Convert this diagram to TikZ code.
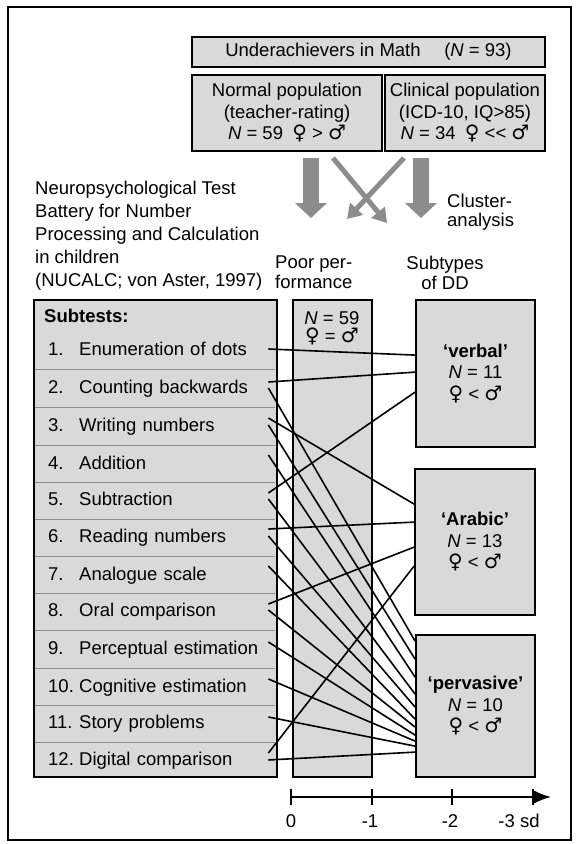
\documentclass[tikz,border=0pt]{standalone}
\usepackage{fontspec}
\setmainfont{Liberation Sans}
\newfontfamily\symfont{DejaVu Sans}
\newcommand{\femsign}{{\symfont\fontsize{20}{20}\selectfont ♀}}
\newcommand{\malesign}{{\symfont\fontsize{20}{20}\selectfont ♂}}
\usetikzlibrary{arrows.meta}

\begin{document}
\begin{tikzpicture}[x=1pt, y=-1pt,
	font=\fontsize{18.5}{21.5}\selectfont,
	panel/.style={draw, line width=1.8pt, fill=black!15, inner sep=0pt, align=center},
	item/.style={anchor=west, inner sep=0pt, text height=13.5pt, text depth=4pt},
	link/.style={line width=1.6pt},
	rowrule/.style={black!45, line width=0.9pt},
	bigflow/.style={black!45, line width=16pt, -{Triangle[length=15pt, width=31pt]}},
	crossflow/.style={black!45, line width=5pt, -{Triangle[length=14pt, width=17pt]}}]
	\useasboundingbox (0,0) rectangle (576,844);
	\draw[line width=2pt] (8,7) rectangle (571,840);

	% Sample
	\node[panel, minimum width=353pt, minimum height=30pt] (sample) at (368.5,52) {Underachievers in Math\quad\ (\textit{N} = 93)};
	\node[panel, minimum width=190pt, minimum height=76pt] (normal) at (287,113) {Normal population\\(teacher-rating)\\\textit{N} = 59\enspace\femsign{} > \malesign};
	\node[panel, minimum width=160pt, minimum height=76pt] (clinical) at (465,113) {Clinical population\\(ICD-10, IQ>85)\\\textit{N} = 34\enspace\femsign{} <{}< \malesign};

	% Grey arrows
	\coordinate (normal-out) at (311,158);
	\coordinate (poor-in) at (311,218);
	\coordinate (clinical-out) at (421,158);
	\coordinate (dd-in) at (421,218);
	\coordinate (normal-cross) at (333,158);
	\coordinate (dd-cross) at (387,223);
	\coordinate (clinical-cross) at (404,158);
	\coordinate (poor-cross) at (347,219);
	\draw[bigflow] (normal-out) -- (poor-in);
	\draw[bigflow] (clinical-out) -- (dd-in);
	\draw[crossflow] (normal-cross) -- (dd-cross);
	\draw[crossflow] (clinical-cross) -- (poor-cross);

	% Captions
	\node[anchor=north west, align=left, inner sep=0pt, font=\fontsize{18.5}{23}\selectfont] (nucalc) at (35,181) {Neuropsychological Test\\Battery for Number\\Processing and Calculation\\in children\\(NUCALC; von Aster, 1997)};
	\node[anchor=north west, align=left, inner sep=0pt, font=\fontsize{18.5}{19}\selectfont] (cluster) at (447,194) {Cluster-\\analysis};
	\node[anchor=north west, align=left, inner sep=0pt, font=\fontsize{18.5}{20}\selectfont] (poorhead) at (275,256) {Poor per-\\formance};
	\node[anchor=north, align=center, inner sep=0pt, font=\fontsize{18.5}{20}\selectfont] (ddhead) at (445,256) {Subtypes\\of DD};

	% Subtests
	\node[panel, minimum width=243pt, minimum height=477pt] (subtests) at (155.5,538.5) {};
	\node[item, font=\fontsize{18.5}{21.5}\bfseries] (subhead) at (44,318) {Subtests:};
	\foreach \y in {369,407,445,482,519,556,593,630,668,705,742}
		\draw[rowrule] (35,\y) -- (275,\y);
	\foreach \i/\y/\txt in {1/351/Enumeration of dots, 2/389/Counting backwards, 3/427/Writing numbers,
		4/465/Addition, 5/501/Subtraction, 6/538/Reading numbers, 7/576/Analogue scale,
		8/612/Oral comparison, 9/650/Perceptual estimation, 10/688/Cognitive estimation,
		11/724/Story problems, 12/761/Digital comparison} {
		\node[item] (num\i) at (48,\y) {\i.};
		\node[item, text width=189pt] (t\i) at (79,\y) {\txt};
	}

	% Poor performance
	\node[panel, minimum width=79pt, minimum height=477pt] (poor) at (332.5,538.5) {};
	\node[anchor=north, align=center, inner sep=0pt, font=\fontsize{18.5}{18}\selectfont] (poorn) at (332,311) {\textit{N} = 59\\\femsign{} = \malesign};

	% Subtypes of DD
	\node[panel, minimum width=119pt, minimum height=147pt] (verbal) at (475.5,373.5) {\textbf{`verbal'}\\\textit{N} = 11\\\femsign{} < \malesign};
	\node[panel, minimum width=120pt, minimum height=146pt] (arabic) at (475,542) {\textbf{`Arabic'}\\\textit{N} = 13\\\femsign{} < \malesign};
	\node[panel, minimum width=119pt, minimum height=142pt] (pervasive) at (475.5,706) {\textbf{`pervasive'}\\\textit{N} = 10\\\femsign{} < \malesign};

	% Links
	\foreach \r/\a/\dd/\b in {1/2/verbal/56, 2/7/verbal/73, 5/8/verbal/93,
		3/9/arabic/36, 6/9/arabic/54, 8/8/arabic/79, 12/8/arabic/98,
		2/1/pervasive/7, 3/2/pervasive/25, 4/10/pervasive/43, 5/2/pervasive/60,
		6/2/pervasive/73, 7/10/pervasive/85, 8/2/pervasive/93, 9/8/pervasive/101,
		10/9/pervasive/107, 11/7/pervasive/112, 12/1/pervasive/118}
		\draw[link] ([yshift=\a pt]t\r.east) -- ([yshift=-\b pt]\dd.north west);

	% Scale
	\coordinate (sd0) at (291,797);
	\coordinate (sd1) at (372,797);
	\coordinate (sd2) at (452,797);
	\coordinate (sd3) at (533,797);
	\coordinate (sdend) at (551,797);
	\draw[line width=1.6pt, -{Latex[length=17pt, width=13pt]}] (sd0) -- (sdend);
	\foreach \c in {sd0,sd1,sd2,sd3}
		\draw[line width=1.6pt] ([yshift=8pt]\c) -- ([yshift=-8pt]\c);
	\node (lab0) at (291,821) {0};
	\node (lab1) at (370,821) {-1};
	\node (lab2) at (450,821) {-2};
	\node (lab3) at (519,821) {-3 sd};
\end{tikzpicture}
\end{document}
